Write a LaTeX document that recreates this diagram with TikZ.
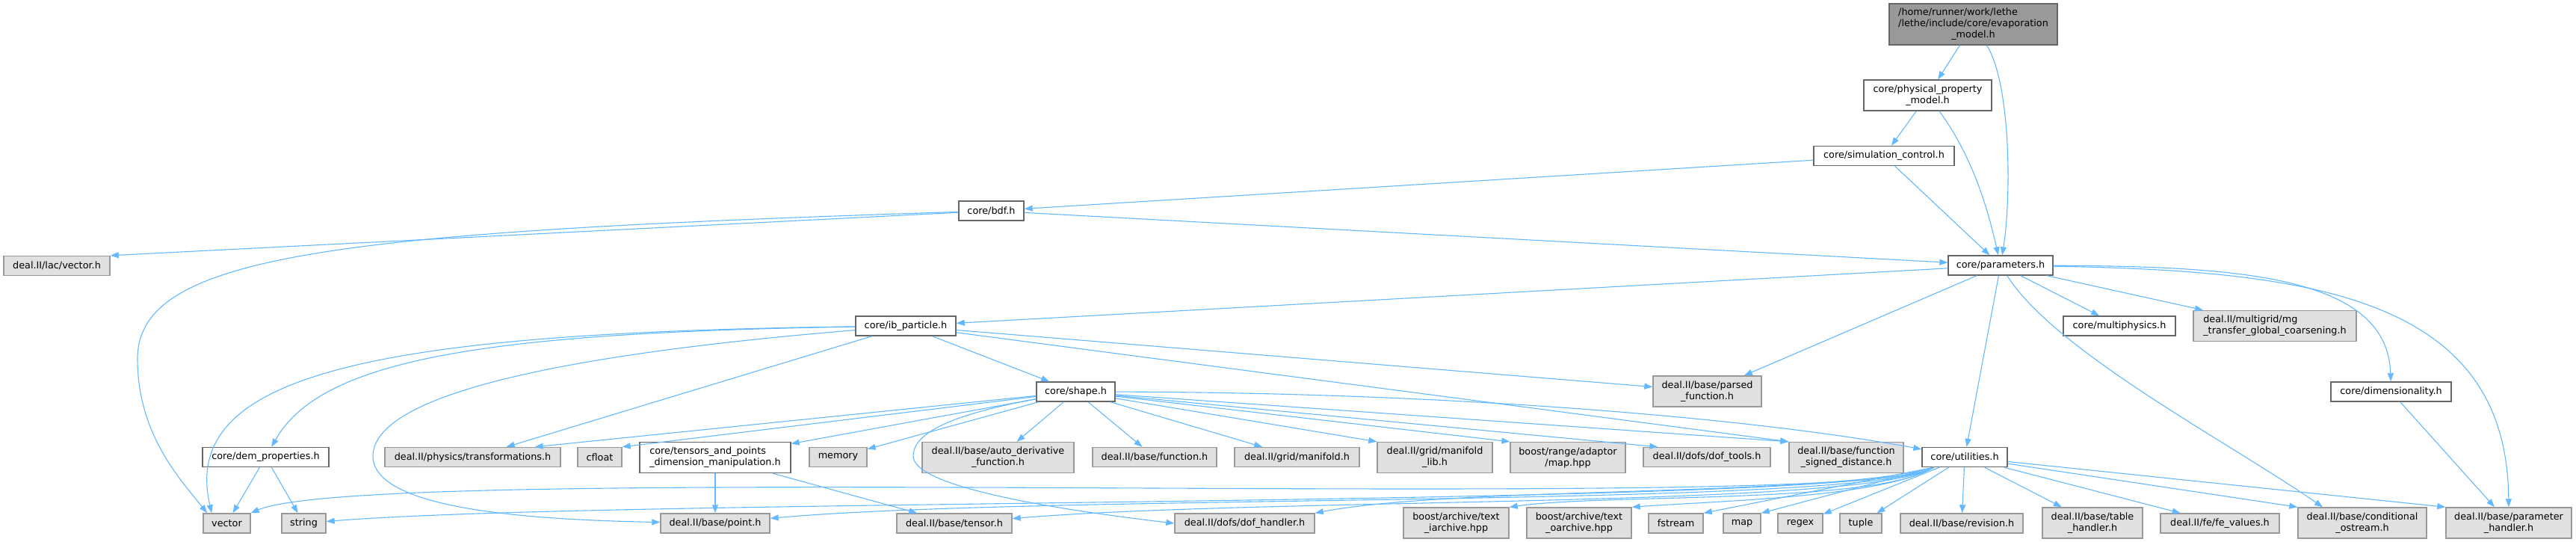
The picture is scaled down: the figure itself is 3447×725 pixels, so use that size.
\documentclass[tikz,border=0pt]{standalone}
\usepackage{fontspec}
\setmainfont{DejaVu Sans}
\usetikzlibrary{arrows.meta}
\definecolor{edgeblue}{HTML}{63B8FF}
\definecolor{boxline}{HTML}{666666}
\definecolor{extline}{HTML}{999999}
\definecolor{extfill}{HTML}{E0E0E0}
\definecolor{curfill}{HTML}{999999}

\begin{document}
\begin{tikzpicture}[x=1pt,y=-1pt,
box/.style={draw=boxline,fill=white,line width=1.4pt,inner sep=0pt,minimum height=26pt,align=center,font=\fontsize{12.8}{15}\selectfont},
ext/.style={box,draw=extline,fill=extfill},
cur/.style={box,fill=curfill,minimum height=55pt},
tall/.style={minimum height=41pt},
arr/.style={-{Triangle[length=11pt,width=8pt]},draw=edgeblue,line width=1.1pt}]
\useasboundingbox (0,0) rectangle (3447,725);
\node[cur,align=left,minimum width=225pt] (evap) at (2640.5,32.5) {/home/runner/work/lethe\\/lethe/include/core/evaporation\\\hspace*{\fill}\_model.h\hspace*{\fill}};
\node[box,tall,minimum width=171pt] (physprop) at (2579.5,127.5) {core/physical\_property\\\_model.h};
\node[box,minimum width=188pt] (simctrl) at (2521,208.5) {core/simulation\_control.h};
\node[box,minimum width=87pt] (bdf) at (1326.5,282) {core/bdf.h};
\node[ext,minimum width=142pt] (lacvector) at (76,355.5) {deal.II/lac/vector.h};
\node[box,minimum width=140pt] (parameters) at (2677,355) {core/parameters.h};
\node[box,minimum width=134pt] (ibparticle) at (1212,436) {core/ib\_particle.h};
\node[box,minimum width=150pt] (multiphysics) at (2836,436) {core/multiphysics.h};
\node[ext,tall,align=left,minimum width=218pt] (mgtransfer) at (3044,436) {deal.II/multigrid/mg\\\_transfer\_global\_coarsening.h};
\node[ext,tall,minimum width=145pt] (parsedfn) at (2284.5,523.5) {deal.II/base/parsed\\\_function.h};
\node[box,minimum width=105pt] (shape) at (1439.5,524) {core/shape.h};
\node[box,minimum width=161pt] (dimensionality) at (3199.5,524) {core/dimensionality.h};
\node[box,minimum width=169pt] (demprop) at (355.5,611.5) {core/dem\_properties.h};
\node[ext,minimum width=235pt] (transformations) at (632.5,611.5) {deal.II/physics/transformations.h};
\node[ext,minimum width=59pt] (cfloat) at (802.5,611.5) {cfloat};
\node[box,tall,align=left,minimum width=202pt] (tensors) at (957,612) {core/tensors\_and\_points\\\_dimension\_manipulation.h};
\node[ext,minimum width=77pt] (memory) at (1121.5,611.5) {memory};
\node[ext,tall,minimum width=203pt] (autoderiv) at (1335.5,612) {deal.II/base/auto\_derivative\\\_function.h};
\node[ext,minimum width=166pt] (function) at (1545,611.5) {deal.II/base/function.h};
\node[ext,minimum width=167pt] (manifold) at (1735.5,611.5) {deal.II/grid/manifold.h};
\node[ext,tall,minimum width=154pt] (manifoldlib) at (1920,612) {deal.II/grid/manifold\\\_lib.h};
\node[ext,tall,minimum width=154pt] (rangemap) at (2098,612) {boost/range/adaptor\\/map.hpp};
\node[ext,minimum width=170pt] (doftools) at (2284,611.5) {deal.II/dofs/dof\_tools.h};
\node[ext,tall,minimum width=153pt] (signeddist) at (2470.5,612) {deal.II/base/function\\\_signed\_distance.h};
\node[box,minimum width=114pt] (utilities) at (2629,611.5) {core/utilities.h};
\node[ext,minimum width=63pt] (vector) at (303.5,700) {vector};
\node[ext,minimum width=59pt] (string) at (406.5,700) {string};
\node[ext,minimum width=146pt] (point) at (957,700) {deal.II/base/point.h};
\node[ext,minimum width=154pt] (tensor) at (1277,700) {deal.II/base/tensor.h};
\node[ext,minimum width=187pt] (dofhandler) at (1665.5,700) {deal.II/dofs/dof\_handler.h};
\node[ext,tall,minimum width=141pt] (iarchive) at (1948.5,699.5) {boost/archive/text\\\_iarchive.hpp};
\node[ext,tall,minimum width=140pt] (oarchive) at (2113,699.5) {boost/archive/text\\\_oarchive.hpp};
\node[ext,minimum width=73pt] (fstream) at (2242.5,700) {fstream};
\node[ext,minimum width=50pt] (map) at (2331,700) {map};
\node[ext,minimum width=60pt] (regex) at (2409,700) {regex};
\node[ext,minimum width=56pt] (tuple) at (2490,700) {tuple};
\node[ext,minimum width=164pt] (revision) at (2625,700) {deal.II/base/revision.h};
\node[ext,tall,minimum width=134pt] (tablehandler) at (2800,699.5) {deal.II/base/table\\\_handler.h};
\node[ext,minimum width=159pt] (fevalues) at (2970.5,700) {deal.II/fe/fe\_values.h};
\node[ext,tall,minimum width=172pt] (condostream) at (3161,699.5) {deal.II/base/conditional\\\_ostream.h};
\node[ext,tall,minimum width=168pt] (paramhandler) at (3357,699.5) {deal.II/base/parameter\\\_handler.h};
\draw[arr] (evap) -- (physprop);
\draw[arr] (evap) .. controls (2690,110) and (2692,260) .. (parameters);
\draw[arr] (physprop) -- (simctrl);
\draw[arr] (physprop) .. controls (2640,210) and (2660,280) .. (parameters);
\draw[arr] (simctrl) -- (bdf);
\draw[arr] (simctrl) -- (parameters);
\draw[arr] (bdf) -- (lacvector.north east);
\draw[arr] (bdf) .. controls (450,310) and (184,340) .. (184,480) .. controls (184,580) and (240,640) .. ([xshift=6pt]vector.north west);
\draw[arr] (bdf) -- (parameters);
\draw[arr] (parameters) -- (ibparticle);
\draw[arr] (parameters) -- (parsedfn);
\draw[arr] (parameters) -- (utilities);
\draw[arr] (parameters) .. controls (2750,470) and (2980,590) .. ([xshift=-53pt]condostream.north);
\draw[arr] (parameters) -- (multiphysics);
\draw[arr] (parameters) -- (mgtransfer);
\draw[arr] (parameters) .. controls (3000,356) and (3195,370) .. (dimensionality);
\draw[arr] (parameters) .. controls (3100,362) and (3355,400) .. (paramhandler);
\draw[arr] (dimensionality) -- (paramhandler);
\draw[arr] (ibparticle) -- (parsedfn);
\draw[arr] (ibparticle) -- (signeddist.north west);
\draw[arr] (ibparticle) -- (shape);
\draw[arr] (ibparticle) -- (transformations);
\draw[arr] (ibparticle) .. controls (650,445) and (430,480) .. (demprop);
\draw[arr] (ibparticle) .. controls (500,445) and (240,500) .. ([xshift=12pt]vector.north west);
\draw[arr] (ibparticle) .. controls (800,470) and (500,520) .. (499,610) .. controls (499,680) and (700,695) .. (point);
\draw[arr] (demprop) -- (vector);
\draw[arr] (demprop) -- (string);
\draw[arr] (shape) -- ([xshift=-35pt]transformations.north east);
\draw[arr] (shape) -- (cfloat.north east);
\draw[arr] (shape) -- (tensors);
\draw[arr] (shape) -- (memory);
\draw[arr] (shape) -- (autoderiv);
\draw[arr] (shape) -- (function);
\draw[arr] (shape) -- (manifold);
\draw[arr] (shape) -- (manifoldlib.north west);
\draw[arr] (shape) -- (rangemap.north west);
\draw[arr] (shape) -- ([xshift=20pt]doftools.north west);
\draw[arr] (shape) -- (signeddist.north west);
\draw[arr] (shape) .. controls (1950,525) and (2350,560) .. (utilities);
\draw[arr] (shape) .. controls (1270,555) and (1222,580) .. (1222,610) .. controls (1222,650) and (1400,680) .. (dofhandler.west);
\draw[arr] (tensors) -- (point);
\draw[arr] (tensors) -- (tensor);
\draw[arr] ([xshift=16pt]utilities.south west) .. controls (2500,690) and (500,615) .. (vector.north east);
\draw[arr] ([xshift=16pt]utilities.south west) .. controls (2500,680) and (836,665) .. (string);
\draw[arr] ([xshift=16pt]utilities.south west) .. controls (2500,680) and (1400,660) .. (point);
\draw[arr] ([xshift=16pt]utilities.south west) .. controls (2500,680) and (1700,665) .. (tensor);
\draw[arr] ([xshift=16pt]utilities.south west) .. controls (2450,665) and (1950,650) .. (dofhandler.north east);
\draw[arr] ([xshift=16pt]utilities.south west) .. controls (2510,675) and (2150,660) .. (iarchive.north east);
\draw[arr] ([xshift=16pt]utilities.south west) .. controls (2520,665) and (2300,670) .. (oarchive.north east);
\draw[arr] ([xshift=16pt]utilities.south west) -- (fstream.north east);
\draw[arr] ([xshift=16pt]utilities.south west) -- (map.north east);
\draw[arr] (utilities) -- (regex);
\draw[arr] (utilities) -- (tuple);
\draw[arr] (utilities) -- (revision);
\draw[arr] (utilities) -- (tablehandler);
\draw[arr] (utilities) -- (fevalues);
\draw[arr] (utilities) -- (condostream.north west);
\draw[arr] (utilities) -- (paramhandler.north west);
\end{tikzpicture}
\end{document}
